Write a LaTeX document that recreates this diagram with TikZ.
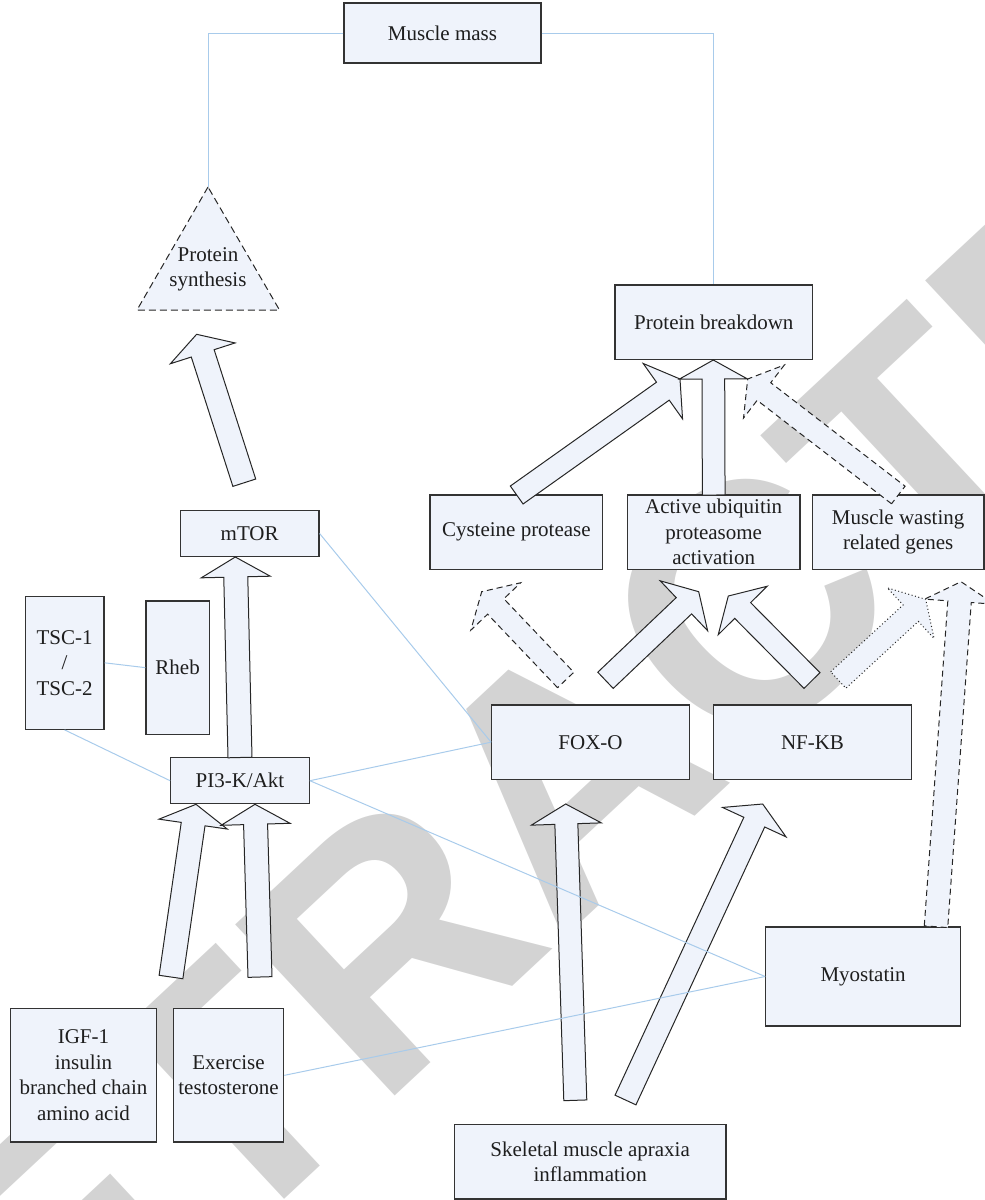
\documentclass[tikz,border=0pt]{standalone}
\usepackage{fontspec}
\setmainfont{Liberation Serif}
\newfontfamily\wmfont{Liberation Sans}
\usetikzlibrary{calc}
\definecolor{boxfill}{RGB}{239,243,251}
\definecolor{boxline}{RGB}{51,51,51}
\definecolor{linkblue}{RGB}{168,203,235}
\definecolor{wmgray}{RGB}{211,211,211}
\definecolor{txt}{RGB}{30,30,30}
% block arrow: style, tail, tip, shaft width, head width, head length
\newcommand\barrow[6]{%
  \path[#1] let \p1=(#2), \p2=(#3), \n1={atan2(\y2-\y1,\x2-\x1)}, \n2={veclen(\x2-\x1,\y2-\y1)} in
    ($(\p1)+({\n1+90}:{#4/2})$)
    -- ($(\p1)+({\n1}:{\n2-#6})+({\n1+90}:{#4/2})$)
    -- ($(\p1)+({\n1}:{\n2-#6})+({\n1+90}:{#5/2})$)
    -- (\p2)
    -- ($(\p1)+({\n1}:{\n2-#6})+({\n1-90}:{#5/2})$)
    -- ($(\p1)+({\n1}:{\n2-#6})+({\n1-90}:{#4/2})$)
    -- ($(\p1)+({\n1-90}:{#4/2})$) -- cycle;}
\begin{document}
\begin{tikzpicture}[x=1pt,y=1pt,
  box/.style={draw=boxline, fill=boxfill, line width=1.2pt, inner sep=0pt, align=center,
    text=txt, font=\fontsize{21}{25.5}\selectfont},
  link/.style={draw=linkblue, line width=1pt},
  solidarrow/.style={draw=black!85, fill=boxfill, line width=1pt, line join=miter},
  dasharrow/.style={solidarrow, dash pattern=on 6pt off 4pt},
  dotarrow/.style={solidarrow, dash pattern=on 1pt off 2.5pt}]
\useasboundingbox (0,0) rectangle (985,-1200);
% watermark
\node[text=wmgray, rotate=43, inner sep=0pt, font=\wmfont\bfseries\fontsize{340}{340}\selectfont] (wm) at (568,-775) {RETRACTED};
% protein synthesis triangle
\draw[draw=black!85, fill=boxfill, line width=1pt, dash pattern=on 7pt off 4pt]
  (208,-187) coordinate (psapex) -- (137,-310) -- (279.5,-310) -- cycle;
\node[inner sep=0pt, align=center, text=txt, font=\fontsize{21}{25.5}\selectfont] (ps) at (208,-269.5) {Protein\\synthesis};
% boxes
\node[box, minimum width=197pt, minimum height=60pt] (mm) at (442.5,-33) {Muscle mass};
\node[box, minimum width=197.7pt, minimum height=74.3pt] (pb) at (713.85,-322.15) {Protein breakdown};
\node[box, minimum width=138.7pt, minimum height=46.4pt] (mtor) at (249.65,-533.5) {mTOR};
\node[box, minimum width=78.7pt, minimum height=133pt] (tsc) at (64.65,-662.8) {TSC-1\\/\\TSC-2};
\node[box, minimum width=63.3pt, minimum height=133.3pt] (rheb) at (177.65,-667.65) {Rheb};
\node[box, minimum width=138.6pt, minimum height=46pt] (pi3k) at (240,-780.7) {PI3-K/Akt};
\node[box, minimum width=145.6pt, minimum height=133.3pt] (igf) at (83.5,-1075.35) {IGF-1\\insulin\\branched chain\\amino acid};
\node[box, minimum width=110.4pt, minimum height=133.3pt] (ex) at (228.5,-1075.35) {Exercise\\testosterone};
\node[box, minimum width=172.7pt, minimum height=74.3pt] (cys) at (516.35,-532.15) {Cysteine protease};
\node[box, minimum width=172.7pt, minimum height=74.3pt] (au) at (713.65,-532.15) {Active ubiquitin\\proteasome\\activation};
\node[box, minimum width=171.7pt, minimum height=74.3pt] (mw) at (898.15,-532.15) {Muscle wasting\\related genes};
\node[box, minimum width=197.6pt, minimum height=74.3pt] (fox) at (590.5,-742.15) {FOX-O};
\node[box, minimum width=197.6pt, minimum height=74.3pt] (nf) at (812.5,-742.15) {NF-KB};
\node[box, minimum width=194.8pt, minimum height=99pt] (myo) at (863.1,-976.5) {Myostatin};
\node[box, minimum width=271.7pt, minimum height=74.7pt] (skel) at (590.15,-1161.65) {Skeletal muscle apraxia\\inflammation};
% arrow end points
\coordinate (a1t) at (244.3,-482.7);  \coordinate (a1h) at (196.6,-334.3);
\coordinate (a2t) at (240,-757.5);    \coordinate (a2h) at (235.3,-557);
\coordinate (a3t) at (171,-977);      \coordinate (a3h) at (196,-804.3);
\coordinate (a4t) at (260,-977);      \coordinate (a4h) at (255,-804.3);
\coordinate (a5t) at (516.7,-495);    \coordinate (a5h) at (680,-379);
\coordinate (a6t) at (713.7,-495);    \coordinate (a6h) at (713.3,-360);
\coordinate (a7t) at (898.3,-495);    \coordinate (a7h) at (747.7,-379);
\coordinate (a8t) at (565.7,-680);    \coordinate (a8h) at (481.7,-591.7);
\coordinate (a9t) at (605.5,-680.3);  \coordinate (a9h) at (698.7,-591.7);
\coordinate (a10t) at (812,-680.5);   \coordinate (a10h) at (728.3,-596);
\coordinate (a11t) at (838.3,-680);   \coordinate (a11h) at (925.7,-599.3);
\coordinate (a12t) at (936,-926.7);   \coordinate (a12h) at (961,-581.7);
\coordinate (a13t) at (575.3,-1100.3);\coordinate (a13h) at (565.7,-804);
\coordinate (a14t) at (625.5,-1100);  \coordinate (a14h) at (762.7,-804);
% block arrows
\barrow{solidarrow}{a1t}{a1h}{24}{68}{20}
\barrow{solidarrow}{a2t}{a2h}{24}{69}{20}
\barrow{solidarrow}{a3t}{a3h}{24}{69}{20}
\barrow{solidarrow}{a4t}{a4h}{24}{69}{20}
\barrow{solidarrow}{a5t}{a5h}{22}{68}{21}
\barrow{solidarrow}{a6t}{a6h}{22.7}{68}{19}
\barrow{dasharrow}{a7t}{a7h}{22.2}{67}{20.5}
\barrow{dasharrow}{a8t}{a8h}{22.4}{68.8}{20.2}
\barrow{solidarrow}{a9t}{a9h}{22.4}{68.8}{20.2}
\barrow{solidarrow}{a10t}{a10h}{22.4}{68.8}{20.2}
\barrow{dotarrow}{a11t}{a11h}{22.4}{68.8}{20.2}
\barrow{dasharrow}{a12t}{a12h}{23.5}{70}{20}
\barrow{solidarrow}{a13t}{a13h}{23}{70}{20}
\barrow{solidarrow}{a14t}{a14h}{23}{70}{20}
% blue connectors
\draw[link] (mm.west) -| (psapex);
\draw[link] (mm.east) -| (pb.north);
\draw[link] (tsc.east) -- (rheb.west);
\draw[link] (tsc.south) -- (pi3k.west);
\draw[link] (mtor.east) -- (fox.west);
\draw[link] (pi3k.east) -- (fox.west);
\draw[link] (pi3k.east) -- (myo.west);
\draw[link] (ex.east) -- (myo.west);
\end{tikzpicture}
\end{document}
